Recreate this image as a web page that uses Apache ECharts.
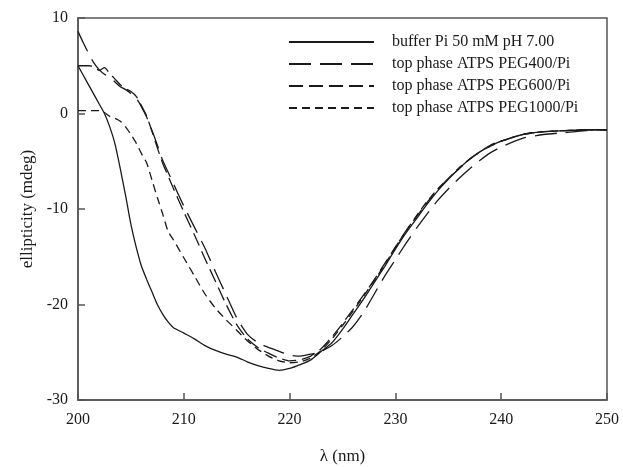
<!DOCTYPE html>
<html>
<head>
<meta charset="utf-8">
<script src="https://cdn.jsdelivr.net/npm/echarts@6/dist/echarts.min.js"></script>
<style>
  html, body { margin: 0; padding: 0; background: #fff; }
  #chart { width: 623px; height: 467px; }
</style>
</head>
<body>
<div id="chart"></div>
<script>
// wavelength (nm)
var wavelength = [200, 200.5, 201, 201.5, 202, 202.5, 203, 203.5, 204, 204.5, 205, 205.5, 206, 206.5, 207, 207.5, 208, 208.5, 209,
    210, 211, 212, 213, 214, 215, 216, 217, 218, 219, 220, 221, 222, 223, 224, 225, 226, 227, 228, 229,
    230, 231, 232, 233, 234, 235, 236, 237, 238, 239, 240, 242, 244, 246, 248, 250];

// ellipticity (mdeg)
var bufferPi = [5.0, 4.0, 3.0, 2.0, 1.0, 0.0, -1.4, -3.2, -5.8, -8.6, -11.6, -14.0, -16.0, -17.4, -18.7, -20.0, -21.0, -21.8, -22.4,
    -23.0, -23.6, -24.3, -24.8, -25.2, -25.5, -26.0, -26.4, -26.7, -26.9, -26.7, -26.3, -25.8, -24.9, -24.0, -22.6, -21.0, -19.4, -17.7, -16.0,
    -14.2, -12.5, -11.0, -9.5, -8.1, -6.9, -5.8, -4.8, -4.0, -3.4, -2.9, -2.2, -1.9, -1.8, -1.7, -1.7];
var peg400 = [8.6, 7.4, 6.3, 5.3, 4.6, 4.1, 3.8, 3.3, 2.8, 2.5, 2.1, 1.6, 0.7, -0.4, -1.8, -3.3, -4.9, -6.1, -7.3,
    -9.7, -11.9, -14.1, -16.6, -19.0, -21.4, -23.1, -24.0, -24.5, -24.9, -25.3, -25.4, -25.2, -24.9, -24.3, -23.4, -22.3, -20.8, -18.9, -17.0,
    -15.3, -13.6, -12.0, -10.5, -9.1, -7.9, -6.8, -5.8, -4.9, -4.1, -3.5, -2.6, -2.2, -2.0, -1.8, -1.7];
var peg600 = [5.0, 5.0, 5.0, 4.9, 4.5, 4.8, 4.2, 3.6, 3.0, 2.6, 2.3, 1.8, 0.8, -0.3, -1.9, -3.6, -5.2, -6.5, -7.8,
    -10.3, -12.7, -15.2, -17.6, -20.0, -22.1, -23.6, -24.5, -25.1, -25.6, -25.9, -25.8, -25.4, -24.6, -23.4, -22.0, -20.5, -19.0, -17.4, -15.7,
    -14.0, -12.3, -10.8, -9.3, -8.0, -6.8, -5.8, -4.8, -4.0, -3.3, -2.9, -2.2, -1.9, -1.8, -1.7, -1.7];
var peg1000 = [0.3, 0.3, 0.3, 0.3, 0.3, 0.1, -0.3, -0.5, -0.8, -1.4, -2.2, -3.1, -4.2, -5.2, -7.0, -8.8, -10.5, -12.3, -13.2,
    -15.1, -17.0, -18.9, -20.4, -21.6, -22.7, -23.8, -24.7, -25.4, -25.9, -26.1, -26.0, -25.6, -24.8, -23.6, -22.2, -20.7, -19.1, -17.5, -15.8,
    -14.0, -12.3, -10.7, -9.2, -7.9, -6.8, -5.7, -4.8, -4.0, -3.4, -2.9, -2.2, -1.9, -1.8, -1.7, -1.7];

var seriesNames = ['buffer Pi 50 mM pH 7.00', 'top phase ATPS PEG400/Pi', 'top phase ATPS PEG600/Pi', 'top phase ATPS PEG1000/Pi'];

function pairs(values) {
    return wavelength.map(function (w, i) { return [w, values[i]]; });
}

var font = 'Liberation Serif';
var ink = '#1a1a1a';

function lineSeries(name, values, dash) {
    return {
        name: name,
        type: 'line',
        data: pairs(values),
        symbol: 'none',
        smooth: 0.2,
        lineStyle: { color: ink, width: 1.3, type: dash },
        itemStyle: { color: ink }
    };
}

var chart = echarts.init(document.getElementById('chart'));
chart.setOption({
    animation: false,
    backgroundColor: '#fff',
    grid: {
        left: 78, right: 16, top: 18, bottom: 67,
        outerBoundsMode: 'none',
        show: true, borderColor: '#555', borderWidth: 1.5
    },
    legend: {
        orient: 'vertical',
        left: 283, top: 29,
        itemWidth: 85, itemHeight: 14, itemGap: 6,
        itemStyle: { opacity: 0 },
        textStyle: { fontFamily: font, fontSize: 16, color: ink, padding: [0, 0, 0, 13] },
        data: seriesNames
    },
    xAxis: {
        type: 'value', min: 200, max: 250, interval: 10,
        name: 'λ (nm)', nameLocation: 'middle', nameGap: 48,
        nameTextStyle: { fontFamily: font, fontSize: 17, color: ink },
        axisLine: { onZero: false, lineStyle: { color: '#555', width: 1.5 } },
        axisTick: { inside: true, length: 7, lineStyle: { color: '#555', width: 1.5 } },
        axisLabel: { fontFamily: font, fontSize: 16, color: ink, margin: 12 },
        splitLine: { show: false }
    },
    yAxis: {
        type: 'value', min: -30, max: 10, interval: 10,
        name: 'ellipticity (mdeg)', nameLocation: 'middle', nameGap: 40,
        nameTextStyle: { fontFamily: font, fontSize: 17, color: ink },
        axisLine: { show: true, onZero: false, lineStyle: { color: '#555', width: 1.5 } },
        axisTick: { show: true, inside: true, length: 7, lineStyle: { color: '#555', width: 1.5 } },
        axisLabel: { fontFamily: font, fontSize: 16, color: ink, margin: 10 },
        splitLine: { show: false }
    },
    series: [
        lineSeries(seriesNames[0], bufferPi, 'solid'),
        lineSeries(seriesNames[1], peg400, [22, 9]),
        lineSeries(seriesNames[2], peg600, [14, 6]),
        lineSeries(seriesNames[3], peg1000, [8, 5])
    ]
});

window.addEventListener('resize', function () {
    chart.resize();
});
</script>
</body>
</html>
